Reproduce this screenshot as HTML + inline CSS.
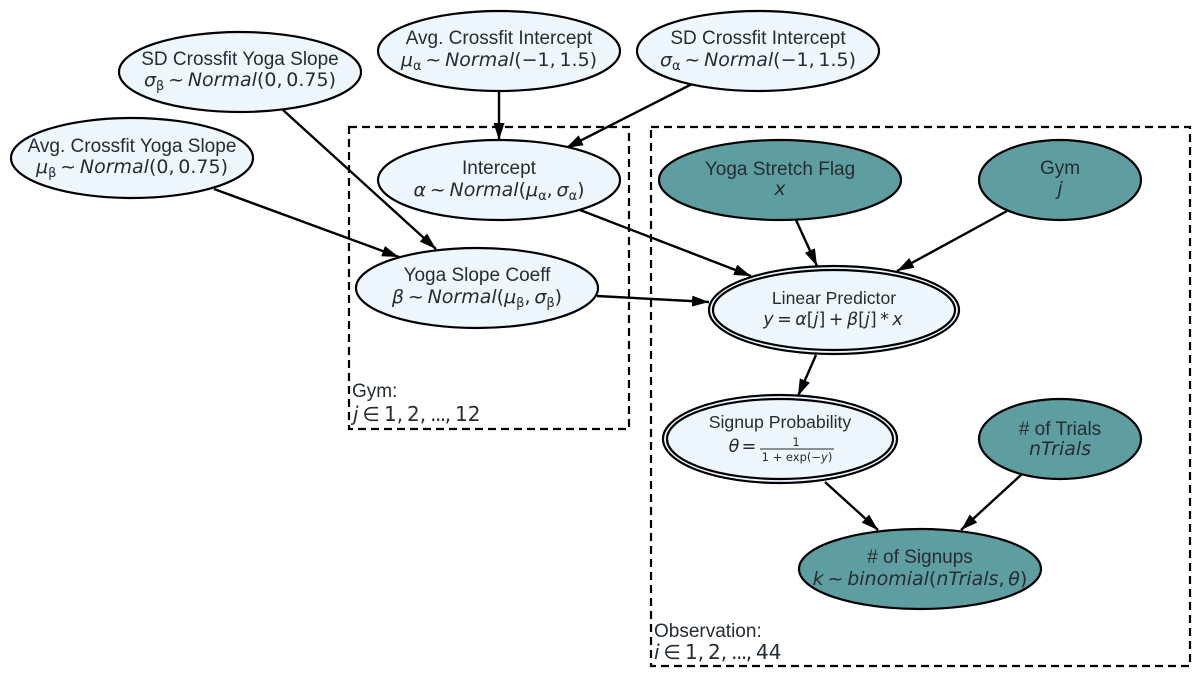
<!DOCTYPE html>
<html><head><meta charset="utf-8"><style>
html,body{margin:0;padding:0;background:#fff}
svg{display:block}
.l{font-family:"Liberation Sans",sans-serif;font-size:19px;fill:#262c33;text-anchor:middle}
.m{font-family:"DejaVu Sans",sans-serif;font-size:19px;fill:#262c33;text-anchor:middle}
.i{font-style:italic}
.s{font-size:13px}
.n{fill:#eff7fe;stroke:#000;stroke-width:2.2}
.t{fill:#5f9ea0;stroke:#000;stroke-width:2.2}
.e{stroke:#000;stroke-width:2.4;fill:none;marker-end:url(#a)}
.b{fill:none;stroke:#000;stroke-width:2.2;stroke-dasharray:8 5}
.pl{font-family:"Liberation Sans",sans-serif;font-size:19px;fill:#262c33}
.pm{font-family:"DejaVu Sans",sans-serif;font-size:20px;fill:#262c33}
.d{letter-spacing:-1.5px}
</style></head><body>
<svg width="1200" height="677" viewBox="0 0 1200 677" xmlns="http://www.w3.org/2000/svg">
<defs><marker id="a" markerUnits="userSpaceOnUse" markerWidth="18" markerHeight="12" refX="17" refY="5.5" orient="auto"><path d="M0 0L17 5.5L0 11Z" fill="#000"/></marker></defs>

<rect class="b" x="349" y="127" width="280" height="302"/>
<rect class="b" x="651" y="127" width="539" height="539"/>

<path class="e" d="M283 110L436 249"/>
<path class="e" d="M214 189L399 257"/>
<path class="e" d="M499 92L499 140"/>
<path class="e" d="M692 84L566 148"/>
<path class="e" d="M580 210L751 276"/>
<path class="e" d="M597 296L709 302"/>
<path class="e" d="M796 220L817 266"/>
<path class="e" d="M1007 211L897 271"/>
<path class="e" d="M816 355L798 396"/>
<path class="e" d="M825 482L878 530"/>
<path class="e" d="M1022 474L961 530"/>

<ellipse class="n" cx="240" cy="72" rx="121" ry="40"/>
<ellipse class="n" cx="132" cy="158" rx="121" ry="40"/>
<ellipse class="n" cx="499" cy="51" rx="121" ry="40"/>
<ellipse class="n" cx="758" cy="51" rx="121" ry="40"/>
<ellipse class="n" cx="499" cy="180" rx="121" ry="40"/>
<ellipse class="n" cx="477" cy="288" rx="121" ry="40"/>
<ellipse class="t" cx="780" cy="180" rx="121" ry="40"/>
<ellipse class="t" cx="1060" cy="180" rx="81" ry="40"/>
<ellipse class="n" cx="834" cy="310" rx="125" ry="44"/>
<ellipse class="n" cx="834" cy="310" rx="121" ry="40"/>
<ellipse class="n" cx="780" cy="439" rx="117" ry="44"/>
<ellipse class="n" cx="780" cy="439" rx="113" ry="40"/>
<ellipse class="t" cx="1060" cy="439" rx="81" ry="40"/>
<ellipse class="t" cx="920" cy="569" rx="121" ry="40"/>

<text class="l" x="240" y="65">SD Crossfit Yoga Slope</text>
<text class="m" x="240" y="86"><tspan class="i">σ</tspan><tspan class="s" dy="4">β</tspan><tspan dy="-4">&#8201;~&#8201;</tspan><tspan class="i">Normal</tspan>(0,&#8201;0.75)</text>
<text class="l" x="132" y="152">Avg. Crossfit Yoga Slope</text>
<text class="m" x="132" y="173"><tspan class="i">μ</tspan><tspan class="s" dy="4">β</tspan><tspan dy="-4">&#8201;~&#8201;</tspan><tspan class="i">Normal</tspan>(0,&#8201;0.75)</text>
<text class="l" x="499" y="44">Avg. Crossfit Intercept</text>
<text class="m" x="499" y="66"><tspan class="i">μ</tspan><tspan class="s" dy="4">α</tspan><tspan dy="-4">&#8201;~&#8201;</tspan><tspan class="i">Normal</tspan>(−1,&#8201;1.5)</text>
<text class="l" x="758" y="44">SD Crossfit Intercept</text>
<text class="m" x="758" y="66"><tspan class="i">σ</tspan><tspan class="s" dy="4">α</tspan><tspan dy="-4">&#8201;~&#8201;</tspan><tspan class="i">Normal</tspan>(−1,&#8201;1.5)</text>
<text class="l" x="499" y="174">Intercept</text>
<text class="m" x="499" y="196"><tspan class="i">α</tspan>&#8201;~&#8201;<tspan class="i">Normal</tspan>(<tspan class="i">μ</tspan><tspan class="s" dy="4">α</tspan><tspan dy="-4">,&#8201;</tspan><tspan class="i">σ</tspan><tspan class="s" dy="4">α</tspan><tspan dy="-4">)</tspan></text>
<text class="l" x="477" y="281">Yoga Slope Coeff</text>
<text class="m" x="477" y="303"><tspan class="i">β</tspan>&#8201;~&#8201;<tspan class="i">Normal</tspan>(<tspan class="i">μ</tspan><tspan class="s" dy="4">β</tspan><tspan dy="-4">,&#8201;</tspan><tspan class="i">σ</tspan><tspan class="s" dy="4">β</tspan><tspan dy="-4">)</tspan></text>
<text class="l" x="780" y="175">Yoga Stretch Flag</text>
<text class="m i" x="780" y="195">x</text>
<text class="l" x="1060" y="174">Gym</text>
<text class="m i" x="1060" y="195">j</text>
<text class="l" x="834" y="304" style="font-size:17.6px">Linear Predictor</text>
<text class="m" x="833" y="325" style="font-size:17.5px"><tspan class="i">y</tspan>&#8201;=&#8201;<tspan class="i">α</tspan>[<tspan class="i">j</tspan>]&#8201;+&#8201;<tspan class="i">β</tspan>[<tspan class="i">j</tspan>]&#8201;*&#8201;<tspan class="i">x</tspan></text>
<text class="l" x="780" y="428" style="font-size:17.7px">Signup Probability</text>
<text class="m i" x="734" y="452" style="font-size:17.5px">θ</text>
<text class="m" x="749" y="452" style="font-size:17.5px">=</text>
<text class="m" x="796" y="446" style="font-size:11.5px">1</text>
<line x1="760" y1="449" x2="834" y2="449" stroke="#262c33" stroke-width="1"/>
<text class="m" x="797" y="461" style="font-size:11.5px">1 + exp(−<tspan class="i">y</tspan>)</text>
<text class="l" x="1060" y="435">&#35; of Trials</text>
<text class="m i" x="1060" y="455">nTrials</text>
<text class="l" x="920" y="563">&#35; of Signups</text>
<text class="m" x="920" y="585"><tspan class="i">k</tspan>&#8201;~&#8201;<tspan class="i">binomial</tspan>(<tspan class="i">nTrials</tspan>,&#8201;<tspan class="i">θ</tspan>)</text>

<text class="pl" x="352" y="397">Gym:</text>
<text class="pm" x="353" y="421"><tspan class="i">j</tspan>&#8201;∈&#8201;1,&#8201;2,&#8201;<tspan class="d">...</tspan>,&#8201;12</text>
<text class="pl" x="654" y="637">Observation:</text>
<text class="pm" x="654" y="659"><tspan class="i">i</tspan>&#8201;∈&#8201;1,&#8201;2,&#8201;<tspan class="d">...</tspan>,&#8201;44</text>
</svg>
</body></html>
